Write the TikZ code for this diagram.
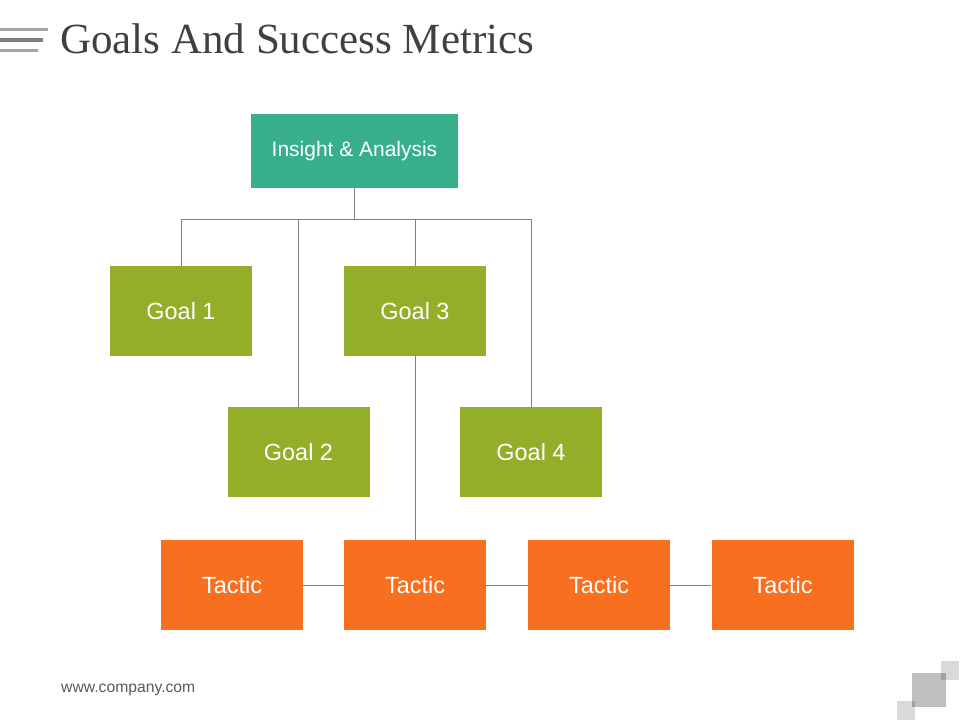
\documentclass[tikz,border=0pt]{standalone}
\usepackage{fontspec}
\setmainfont{Liberation Serif}
\newfontfamily\arialfont{Liberation Sans}
\usepackage{tikz}

\definecolor{teal}{HTML}{37AF8B}
\definecolor{goalgreen}{HTML}{93AE28}
\definecolor{tacticorange}{HTML}{F8701F}
\definecolor{linegray}{HTML}{808080}
\definecolor{titlegray}{HTML}{404040}
\definecolor{barlight}{HTML}{A6A6A6}
\definecolor{bardark}{HTML}{7F7F7F}

\begin{document}
\begin{tikzpicture}[x=0.03cm, y=-0.03cm,
        box/.style={rectangle, inner sep=0pt, text=white, font=\arialfont\fontsize{20}{24}\selectfont,
            minimum width=4.26cm, minimum height=2.7cm},
        insightbox/.style={box, fill=teal, minimum width=6.21cm, minimum height=2.22cm,
            font=\arialfont\fontsize{17.9}{21}\selectfont},
        goalbox/.style={box, fill=goalgreen},
        tacticbox/.style={box, fill=tacticorange},
        link/.style={draw=linegray, line width=0.6pt}]
        \useasboundingbox (0,0) rectangle (960,720);
        % Title and decoration
        \foreach \y/\len/\col in {29.5/48/barlight, 40/43/bardark, 50.5/38/barlight}
            \draw[\col, line width=3pt] (0,\y) -- (\len,\y);
        \node[anchor=base west, inner sep=0pt, text=titlegray, font=\fontsize{36.7}{40}\selectfont] (title) at (60,53) {Goals And Success Metrics};
        \node[anchor=base west, inner sep=0pt, text=black!65, font=\arialfont\fontsize{13.4}{16}\selectfont] (site) at (61,692) {www.company.com};
        \fill[black!25] (912,673) rectangle (946,707);
        \fill[black, fill opacity=0.15] (941,661) rectangle (959,680);
        \fill[black, fill opacity=0.15] (897,701) rectangle (915,720);
        % Nodes
        \node[insightbox] (ia) at (354.5,151) {Insight \& Analysis};
        \node[goalbox] (g1) at (181,311) {Goal 1};
        \node[goalbox] (g3) at (415,311) {Goal 3};
        \node[goalbox] (g2) at (298.5,452) {Goal 2};
        \node[goalbox] (g4) at (531,452) {Goal 4};
        \node[tacticbox] (t1) at (232,585) {Tactic};
        \node[tacticbox] (t2) at (415,585) {Tactic};
        \node[tacticbox] (t3) at (599,585) {Tactic};
        \node[tacticbox] (t4) at (782.5,585) {Tactic};
        \coordinate (hub) at (354.5,219);
        % Edges
        \draw[link] (ia.south) -- (hub);
        \draw[link] (hub) -| (g1.north);
        \draw[link] (hub) -| (g2.north);
        \draw[link] (hub) -| (g3.north);
        \draw[link] (hub) -| (g4.north);
        \draw[link] (g3.south) -- (t2.north);
        \draw[link] (t1) -- (t2);
        \draw[link] (t2) -- (t3);
        \draw[link] (t3) -- (t4);
    \end{tikzpicture}
\end{document}
